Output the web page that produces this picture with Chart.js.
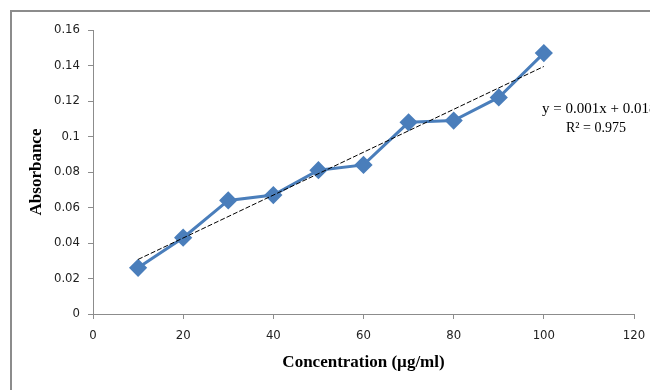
<!DOCTYPE html>
<html>
<head>
<meta charset="utf-8">
<script src="https://cdn.jsdelivr.net/npm/chart.js@4.4.1/dist/chart.umd.min.js"></script>
<style>
  html, body { margin: 0; padding: 0; background: #fff; overflow: hidden; }
</style>
</head>
<body>
<canvas id="myChart" width="650" height="390"></canvas>
<script>
// concentration (µg/ml) and absorbance readings
const concentration = [10, 20, 30, 40, 50, 60, 70, 80, 90, 100];
const absorbance = [0.026, 0.043, 0.064, 0.067, 0.081, 0.084, 0.108, 0.109, 0.122, 0.147];
const xTicks = [0, 20, 40, 60, 80, 100, 120];
const yTicks = [0, 0.02, 0.04, 0.06, 0.08, 0.1, 0.12, 0.14, 0.16];
const equationText = ['y = 0.001x + 0.018', 'R\u00b2 = 0.975'];

// least squares trend line from the data
const n = concentration.length;
const mx = concentration.reduce((a, b) => a + b, 0) / n;
const my = absorbance.reduce((a, b) => a + b, 0) / n;
let sxy = 0, sxx = 0;
for (let i = 0; i < n; i++) {
    sxy += (concentration[i] - mx) * (absorbance[i] - my);
    sxx += (concentration[i] - mx) * (concentration[i] - mx);
}
const slope = sxy / sxx;
const intercept = my - slope * mx;
const trendX = [concentration[0], concentration[n - 1]];

const tickFont = {
    family: "'Liberation Sans Narrow', 'DejaVu Sans Condensed', 'Roboto', sans-serif",
    size: 13,
};
const titleFont = {
    family: "'Liberation Serif', 'DejaVu Serif', serif",
    size: 17,
    weight: 'bold',
};

// outer frame + equation text
const extras = {
    id: 'extras',
    beforeDraw(chart) {
        const ctx = chart.ctx;
        ctx.save();
        ctx.strokeStyle = '#8c8c8c';
        ctx.lineWidth = 2;
        ctx.beginPath();
        ctx.moveTo(11, 390);
        ctx.lineTo(11, 11);
        ctx.lineTo(650, 11);
        ctx.stroke();
        ctx.restore();
    },
    afterDraw(chart) {
        const ctx = chart.ctx;
        const area = chart.chartArea;
        ctx.save();
        ctx.fillStyle = '#000';
        ctx.textBaseline = 'middle';
        ctx.textAlign = 'left';
        ctx.font = "15px 'Liberation Serif', 'DejaVu Serif', serif";
        ctx.fillText(equationText[0], area.left + 449, 109);
        ctx.font = "14px 'Liberation Serif', 'DejaVu Serif', serif";
        ctx.fillText(equationText[1], area.left + 473, 128);
        ctx.restore();
    }
};

const data = {
    datasets: [{
        label: 'Absorbance',
        data: concentration.map((x, i) => ({x: x, y: absorbance[i]})),
        borderColor: '#4a7ebb',
        backgroundColor: '#4a7ebb',
        borderWidth: 3,
        pointStyle: 'rectRot',
        pointRadius: 7,
        pointHoverRadius: 7,
        tension: 0,
        order: 1,
    }, {
        label: 'Linear',
        data: trendX.map(x => ({x: x, y: slope * x + intercept})),
        borderColor: '#000',
        borderWidth: 1,
        borderDash: [5, 2],
        pointRadius: 0,
        order: 0,
    }]
};

const config = {
    type: 'line',
    data: data,
    options: {
        responsive: false,
        animation: false,
        layout: {
            padding: {left: 0, top: 30, right: 16, bottom: 0}
        },
        scales: {
            x: {
                type: 'linear',
                min: xTicks[0],
                max: xTicks[xTicks.length - 1],
                afterBuildTicks: s => { s.ticks = xTicks.map(v => ({value: v})); },
                afterFit: s => { s.height = 76; s.paddingLeft = 0; s.paddingRight = 0; },
                grid: {
                    display: true,
                    drawOnChartArea: false,
                    drawTicks: true,
                    tickLength: 5,
                    color: '#8c8c8c',
                },
                border: {color: '#8c8c8c', width: 1},
                ticks: {
                    color: '#222',
                    font: tickFont,
                    padding: 9,
                    maxRotation: 0,
                },
                title: {
                    display: true,
                    text: 'Concentration (\u00b5g/ml)',
                    color: '#000',
                    font: titleFont,
                    padding: {top: 0, bottom: 17},
                }
            },
            y: {
                min: yTicks[0],
                max: yTicks[yTicks.length - 1],
                afterBuildTicks: s => { s.ticks = yTicks.map(v => ({value: v})); },
                afterFit: s => { s.width = 93; s.paddingTop = 0; s.paddingBottom = 0; },
                grid: {
                    display: true,
                    drawOnChartArea: false,
                    drawTicks: true,
                    tickLength: 5,
                    color: '#8c8c8c',
                },
                border: {color: '#8c8c8c', width: 1},
                ticks: {
                    color: '#222',
                    font: tickFont,
                    padding: 8,
                    callback: v => String(+v.toFixed(2)),
                },
                title: {
                    display: true,
                    text: 'Absorbance',
                    color: '#000',
                    font: titleFont,
                    padding: {top: 26, bottom: 0},
                }
            }
        },
        plugins: {
            legend: {display: false},
            tooltip: {enabled: false},
        }
    },
    plugins: [extras]
};

const myChart = new Chart(document.getElementById('myChart'), config);
</script>
</body>
</html>
